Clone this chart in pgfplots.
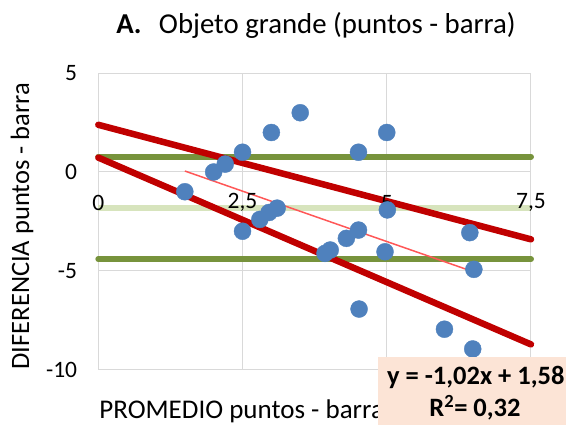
\documentclass[border=0pt]{standalone}
\usepackage{pgfplots}
\pgfplotsset{compat=1.18}
\usepackage{fontspec}
\setmainfont{Carlito}
\definecolor{gridgray}{HTML}{D9D9D9}
\definecolor{darkred}{HTML}{C00000}
\definecolor{olivegreen}{HTML}{77933C}
\definecolor{lightolive}{HTML}{D7E4BD}
\definecolor{thinred}{HTML}{FF5757}
\definecolor{ptblue}{HTML}{4F81BD}
\definecolor{peach}{HTML}{FCE4D6}
\begin{document}
\begin{tikzpicture}[x=1pt,y=1pt]
\begin{axis}[at={(98.3pt,55.5pt)}, anchor=south west, scale only axis,
  width=432.7pt, height=296.25pt,
  xmin=0, xmax=7.5, ymin=-10, ymax=5, clip=false,
  xtick={0,2.5,5,7.5}, xticklabels={},
  ytick={-10,-5,0,5}, yticklabels={-10,-5,0,5},
  grid=major, major grid style={gridgray, line width=1pt},
  axis line style={gridgray, line width=1pt},
  major tick length=0pt,
  tick label style={font=\fontsize{23.5}{28}\selectfont, text=black},
  yticklabel style={anchor=east, inner sep=0pt, xshift=-21pt},
  xlabel={PROMEDIO puntos - barra}, ylabel={DIFERENCIA puntos - barra},
  every axis x label/.style={at={(axis description cs:0.3314,-0.1671)}, anchor=base, inner sep=0pt, font=\fontsize{27}{32}\selectfont},
  every axis y label/.style={at={(axis description cs:-0.1763,0.484)}, anchor=center, rotate=90, inner sep=0pt, font=\fontsize{26.5}{32}\selectfont},
]
% limits of agreement (green)
\addplot[olivegreen, line width=6pt, line cap=round, forget plot] coordinates {(0,0.77) (7.5,0.77)};
\addplot[olivegreen, line width=6pt, line cap=round, forget plot] coordinates {(0,-4.41) (7.5,-4.41)};
\addplot[lightolive, line width=5.7pt, forget plot] coordinates {(0,-1.81) (7.5,-1.81)};
% regression-based limits (red)
\addplot[darkred, line width=6.5pt, line cap=round, forget plot] coordinates {(0,2.39) (7.5,-3.41)};
\addplot[darkred, line width=6.5pt, line cap=round, forget plot] coordinates {(0,0.73) (7.5,-8.73)};
% data points
\addplot[only marks, mark=*, mark size=8.5pt, mark options={fill=ptblue, draw=ptblue}, forget plot] coordinates {
(1.5,-1) (2,0) (2.2,0.4) (2.5,1) (2.5,-3) (2.8,-2.4) (2.96,-2.05) (3.1,-1.83)
(3,2) (3.5,3) (3.93,-4.12) (4.02,-3.95) (4.3,-3.36) (4.51,-2.94) (4.51,1)
(4.52,-6.94) (5,2) (4.97,-4.04) (5.01,-1.92) (6,-7.96) (6.44,-3.07) (6.51,-4.93) (6.49,-8.96)
};
% trend line
\addplot[thinred, line width=1.5pt, forget plot] coordinates {(1.5,0.05) (6.5,-5.05)};
% x tick labels (drawn on top, as in the reference)
\node[inner sep=0pt, font=\fontsize{23.5}{28}\selectfont] at (axis cs:0,-1.55) {0};
\node[inner sep=0pt, font=\fontsize{23.5}{28}\selectfont] at (axis cs:2.5,-1.55) {2,5};
\node[inner sep=0pt, font=\fontsize{23.5}{28}\selectfont] at (axis cs:5,-1.55) {5};
\node[inner sep=0pt, font=\fontsize{23.5}{28}\selectfont] at (axis cs:7.5,-1.55) {7,5};
\end{axis}
\node[anchor=base, inner sep=0pt, font=\fontsize{28.8}{34}\selectfont] at (316,391.7) {\textbf{A.}\hspace{0.6em}Objeto grande (puntos - barra)};
\fill[peach] (378,0) rectangle (566,68.3);
\node[anchor=base, inner sep=0pt, font=\bfseries\fontsize{26.5}{31}\selectfont] at (475.8,40.7) {y = -1,02x + 1,58};
\node[anchor=base, inner sep=0pt, font=\bfseries\fontsize{26.5}{31}\selectfont] at (475,8.3) {R\textsuperscript{2}= 0,32};
\path (0,0) rectangle (566,425);
\end{tikzpicture}
\end{document}
